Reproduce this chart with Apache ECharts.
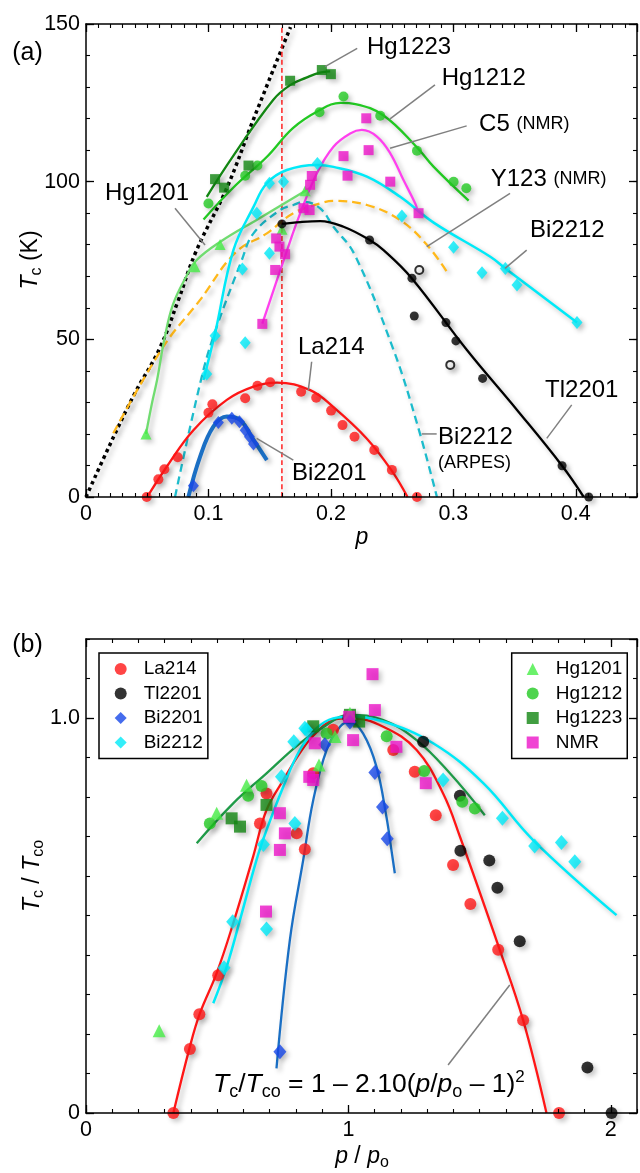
<!DOCTYPE html>
<html><head><meta charset="utf-8">
<script src="https://cdn.jsdelivr.net/npm/echarts@6/dist/echarts.min.js"></script>
<style>html,body{margin:0;padding:0;background:#fff}#c{width:640px;height:1173px}</style>
</head><body><div id="c"></div>
<script>
// ================= DATA =================
// Panel (a): [p, Tc (K)]
const aXTickLabels = [0, 0.1, 0.2, 0.3, 0.4];
const aYTickLabels = [0, 50, 100, 150];
const envelopeDotted = [[0,0],[0.02,17],[0.04,33],[0.06,47],[0.075,62],[0.09,78],[0.115,98],[0.137,120],[0.167,149]];
const optimalDoping = [[0.16,0],[0.16,150]];
const hg1201Curve = [[0.049,20],[0.054,30],[0.058,37],[0.064,50],[0.071,61],[0.082,70],[0.09,75],[0.11,81],[0.14,88],[0.183,98]];
const hg1201Pts = [[0.049,20],[0.089,73],[0.1095,80.1],[0.16,84.9],[0.179,97.1]];
const hg1212Curve = [[0.096,88],[0.12,98],[0.148,108],[0.169,117],[0.19,122.5],[0.208,125],[0.22,124.6],[0.243,121],[0.27,111],[0.284,104.7],[0.3125,94]];
const hg1212Pts = [[0.1,93.1],[0.13,101.9],[0.14,105.1],[0.1907,122],[0.2103,127],[0.2403,120.9],[0.2703,109.8],[0.3002,100],[0.3106,97.9]];
const hg1223Curve = [[0.0986,95.2],[0.12,108],[0.153,126],[0.167,130.7],[0.18,133],[0.191,134.6],[0.1994,135]];
const hg1223Pts = [[0.1054,100.8],[0.1128,98.1],[0.1327,105.1],[0.1667,132],[0.1926,135.4],[0.2,134.1]];
const c5Curve = [[0.144,55],[0.164,78],[0.175,90],[0.1886,102.7],[0.2021,111.1],[0.2158,115.3],[0.2253,116.4],[0.2376,114.3],[0.2485,109],[0.2593,100.5],[0.2689,93.1],[0.2703,91.5]];
const nmrPtsA = [[0.144,54.9],[0.1545,72],[0.1553,82],[0.158,79.4],[0.1626,77],[0.1776,91.6],[0.1844,101.8],[0.183,99],[0.1826,91],[0.2103,108.1],[0.2136,101.9],[0.2289,120.1],[0.2308,110],[0.2485,100],[0.2716,90]];
const y123Curve = [[0.0223,20.2],[0.0632,47.7],[0.0932,62.5],[0.122,77.5],[0.1477,83.6],[0.1694,90],[0.1913,93.1],[0.2021,93.9],[0.2294,92.6],[0.2566,87.8],[0.2784,80],[0.2948,71.4]];
const bi2212Curve = [[0.0959,37.1],[0.1054,51.9],[0.1204,78.3],[0.1368,92],[0.1477,99.5],[0.164,103.7],[0.1886,105.3],[0.2021,104.7],[0.2294,101.6],[0.2566,95.2],[0.2839,87],[0.3302,76.2],[0.3425,72.5],[0.401,55.3]];
const bi2212PtsA = [[0.0986,39],[0.1054,51.1],[0.13,48.9],[0.1277,72.3],[0.1498,77.3],[0.1395,90],[0.1498,99.5],[0.1613,100],[0.189,105.8],[0.258,89.1],[0.3002,79.2],[0.3234,71.1],[0.3425,72.5],[0.352,67.2],[0.401,55.3]];
const arpesCurve = [[0.0727,0],[0.0932,36],[0.104,50.8],[0.1273,75.2],[0.1368,83.6],[0.1586,91],[0.1694,92.6],[0.178,93.6],[0.1913,91.5],[0.2021,85.7],[0.2192,77],[0.2512,46.6],[0.2703,23.4],[0.2866,0]];
const tl2201Curve = [[0.16,86.6],[0.175,87.2],[0.1913,87.5],[0.2103,85.7],[0.2316,81.5],[0.243,78.3],[0.266,69.4],[0.3111,46.6],[0.352,27.6],[0.3888,9.9],[0.4065,0]];
const tl2201PtsA = [[0.16,86.6],[0.2316,81.5],[0.2662,69.4],[0.2681,57.4],[0.294,55.3],[0.3021,49.5],[0.3239,37.6],[0.3888,9.9],[0.4106,0]];
const tl2201Open = [[0.2722,72],[0.2975,41.9]];
const la214Curve = [[0.05,0],[0.0659,9.6],[0.0877,21.2],[0.115,30.8],[0.1368,35],[0.156,36.3],[0.1831,33.9],[0.2021,28.5],[0.2294,18.5],[0.2498,8.3],[0.2626,0]];
const la214PtsA = [[0.0496,0],[0.0591,5.6],[0.064,8.8],[0.0749,12.6],[0.1,26.7],[0.1032,29.4],[0.13,31.3],[0.14,35.3],[0.1504,36.4],[0.1757,33.4],[0.188,31.5],[0.2002,27.4],[0.2095,22.8],[0.2193,19.1],[0.2354,14.9],[0.2498,8.6],[0.2703,0]];
const bi2201Curve = [[0.0836,0],[0.0932,12.8],[0.104,22.3],[0.115,25.5],[0.1259,24.4],[0.1368,18.1],[0.1477,11.7]];
const bi2201PtsA = [[0.0877,3.6],[0.1081,23.6],[0.1191,25],[0.1253,23.9],[0.13,21.2],[0.1335,19.1],[0.1368,16.8]];

// Panel (b): [p/po, Tc/Tco]
const bXTickLabels = [0, 1, 2];
const bYTickLabels = [0, 1];
const bRedCurve = [[0.333,0],[0.396,0.168],[0.434,0.252],[0.498,0.354],[0.561,0.48],[0.637,0.649],[0.688,0.767],[0.752,0.843],[0.815,0.911],[0.866,0.955],[0.942,0.995],[1.006,1.0],[1.133,0.978],[1.26,0.919],[1.361,0.809],[1.425,0.7],[1.577,0.413],[1.666,0.235],[1.755,0]];
const bBlueCurve = [[0.726,0.113],[0.777,0.438],[0.828,0.641],[0.866,0.792],[0.917,0.919],[0.968,0.978],[1.006,0.991],[1.056,0.961],[1.107,0.877],[1.145,0.75],[1.164,0.666],[1.177,0.607]];
const bCyanCurve = [[0.485,0.278],[0.536,0.37],[0.587,0.489],[0.65,0.641],[0.688,0.716],[0.752,0.826],[0.815,0.919],[0.879,0.974],[0.942,0.999],[1.006,1.003],[1.133,0.991],[1.323,0.936],[1.514,0.835],[1.704,0.691],[2.022,0.501]];
const bGreenCurve = [[0.422,0.683],[0.561,0.784],[0.688,0.86],[0.815,0.936],[0.9,0.975],[1.006,1.008],[1.133,0.995],[1.26,0.944],[1.387,0.86],[1.52,0.754]];
const bLa214 = [[0.333,0],[0.396,0.162],[0.432,0.25],[0.504,0.349],[0.663,0.733],[0.688,0.809],[0.803,0.708],[0.834,0.668],[0.866,0.86],[0.942,0.97],[1.171,0.919],[1.253,0.864],[1.333,0.754],[1.399,0.628],[1.465,0.529],[1.571,0.413],[1.666,0.235],[1.803,0]];
const bTl2201 = [[1.0,1.0],[1.285,0.94],[1.425,0.803],[1.427,0.664],[1.537,0.639],[1.568,0.57],[1.653,0.435],[1.911,0.115],[2.003,0]];
const bBi2201 = [[0.739,0.155],[0.91,0.932],[1.006,0.99],[1.101,0.862],[1.13,0.775],[1.148,0.694]];
const bBi2212 = [[0.526,0.368],[0.559,0.484],[0.676,0.68],[0.688,0.466],[0.745,0.851],[0.792,0.94],[0.796,0.733],[0.834,0.974],[0.841,0.97],[1.361,0.843],[1.587,0.746],[1.71,0.676],[1.812,0.685],[1.863,0.636]];
const bHg1201 = [[0.279,0.208],[0.498,0.759],[0.612,0.83],[0.888,0.881],[0.949,0.953],[1.006,1.012]];
const bHg1212 = [[0.472,0.733],[0.618,0.803],[0.669,0.828],[0.917,0.961],[1.146,0.954],[1.289,0.866],[1.434,0.788],[1.482,0.771]];
const bHg1223 = [[0.555,0.746],[0.587,0.725],[0.688,0.78],[0.866,0.979],[1.006,1.008],[1.041,0.991]];
const bNMR = [[0.686,0.51],[0.739,0.759],[0.739,0.666],[0.758,0.708],[0.851,0.851],[0.866,0.843],[0.872,0.936],[1.003,1.003],[1.018,0.944],[1.092,1.111],[1.101,1.02],[1.183,0.927],[1.295,0.835]];

// Annotations (data coordinates)
const aLabels = [
  ['Hg1223', 0.2295, 142.7], ['Hg1212', 0.2905, 132.6], ['C5 {s|(NMR)}', 0.321, 118.3],
  ['Y123 {s|(NMR)}', 0.3305, 100.8], ['Bi2212', 0.3626, 84.4], ['Hg1201', 0.0155, 96.2],
  ['La214', 0.1731, 47.6], ['Bi2201', 0.1682, 7.6], ['Bi2212', 0.2875, 18.9],
  ['{s|(ARPES)}', 0.2875, 10.8], ['Tl2201', 0.3749, 33.9]
];
const aLeaders = [
  [[0.2215,142.3],[0.1952,136.5]], [[0.285,130.7],[0.2483,119.9]], [[0.3109,117.7],[0.2483,110.6]],
  [[0.3463,96.3],[0.2783,79.4]], [[0.3599,78.3],[0.3422,72.5]], [[0.0727,91.6],[0.0972,79.9]],
  [[0.1843,42.9],[0.1816,33.9]], [[0.1693,11.7],[0.1394,18.6]], [[0.2864,20],[0.2742,20]],
  [[0.3967,29.2],[0.3763,18.6]]
];
const bEquationPos = [0.4838, 0.0709];
const bLeader = [[1.38,0.1215],[1.615,0.324]];

// ================= STYLE / BUILD =================
const FONT = '"Liberation Sans", Arial, Helvetica, sans-serif';
const COL = {la:'#ff1616', tl:'#000000', bi2201:'#1747e8', bi2201Line:'#1a6fc4', bi2212:'#00eaf8', arpes:'#1cbccc',
  hg1201:'#46ee46', hg1201Line:'#70dc70', hg1212:'#22c922', hg1223:'#128612', nmr:'#ec14c8', c5Line:'#ff40ee',
  y123:'#ffb81a', vline:'#ff2020', bGreen:'#1f9b48'};
const SH = {shadowColor:'rgba(0,0,0,0.28)', shadowBlur:5, shadowOffsetX:3, shadowOffsetY:3};

function axisSet(dim, grid, min, max, major, minor, labels, fmt, showMax) {
  const isX = dim === 'x';
  const base = {gridIndex:grid, type:'value', min:min, max:max, splitLine:{show:false},
    axisLine:{onZero:false, lineStyle:{color:'#000', width:1.5}}, z:5};
  const pos = isX ? ['bottom','top'] : ['left','right'];
  const lab = {show:true, color:'#000', fontSize:21.5, fontFamily:FONT, margin:6, showMaxLabel:!!showMax, showMinLabel:true,
    formatter: v => labels.some(l => Math.abs(l - v) < 1e-9) ? fmt(v) : ''};
  return [
    Object.assign({}, base, {position:pos[0], interval:major, axisTick:{inside:true, length:8, lineStyle:{color:'#000', width:1.3}}, axisLabel:lab}),
    Object.assign({}, base, {position:pos[1], interval:major, axisTick:{inside:true, length:8, lineStyle:{color:'#000', width:1.3}}, axisLabel:{show:false}}),
    Object.assign({}, base, {position:pos[0], interval:minor, axisLine:{show:false, onZero:false}, axisTick:{inside:true, length:4, lineStyle:{color:'#000', width:1.1}}, axisLabel:{show:false}}),
    Object.assign({}, base, {position:pos[1], interval:minor, axisLine:{show:false, onZero:false}, axisTick:{inside:true, length:4, lineStyle:{color:'#000', width:1.1}}, axisLabel:{show:false}})
  ];
}

const xAxis = [].concat(
  axisSet('x', 0, 0, 0.45, 0.1, 0.01, aXTickLabels, v => v === 0 ? '0' : v.toFixed(1), false),
  axisSet('x', 1, 0, 2.1, 1, 0.1, bXTickLabels, v => String(Math.round(v)), false)
);
const yAxis = [].concat(
  axisSet('y', 0, 0, 150, 50, 10, aYTickLabels, v => String(Math.round(v)), true),
  axisSet('y', 1, 0, 1.2, 1, 0.1, bYTickLabels, v => v === 0 ? '0' : v.toFixed(1), false)
);

function curve(g, data, color, width, type, name) {
  return {type:'line', name:name || '', xAxisIndex:g*4, yAxisIndex:g*4, data:data, smooth:0.4, showSymbol:false,
    symbol:'none', silent:true, clip:true, z:3,
    lineStyle:Object.assign({color:color, width:width, type:type || 'solid', cap:'butt'}, SH)};
}
function pts(g, data, color, symbol, size, name, extra) {
  return {type:'scatter', name:name || '', xAxisIndex:g*4, yAxisIndex:g*4, data:data, symbol:symbol, symbolSize:size,
    silent:true, z:4, itemStyle:Object.assign({color:color}, SH, extra || {})};
}

const series = [
  // panel (a)
  curve(0, envelopeDotted, '#000', 3.5, [3.5,3.5]),
  curve(0, optimalDoping, COL.vline, 1.5, [5,3]),
  curve(0, y123Curve, COL.y123, 2.3, [9,5]),
  curve(0, arpesCurve, COL.arpes, 2.3, [8,5]),
  curve(0, hg1201Curve, COL.hg1201Line, 2.3),
  curve(0, hg1212Curve, COL.hg1212, 2.3),
  curve(0, hg1223Curve, COL.hg1223, 2.3),
  curve(0, c5Curve, COL.c5Line, 2.3),
  curve(0, bi2212Curve, COL.bi2212, 2.5),
  curve(0, tl2201Curve, COL.tl, 2.3),
  curve(0, la214Curve, COL.la, 2.3),
  curve(0, bi2201Curve, COL.bi2201Line, 4),
  pts(0, hg1201Pts, COL.hg1201, 'triangle', 11),
  pts(0, hg1212Pts, COL.hg1212, 'circle', 10),
  pts(0, hg1223Pts, COL.hg1223, 'rect', 10),
  pts(0, nmrPtsA, COL.nmr, 'rect', 10),
  pts(0, bi2212PtsA, COL.bi2212, 'diamond', [11,13]),
  pts(0, tl2201PtsA, '#000', 'circle', 9),
  pts(0, tl2201Open, '#000', 'emptyCircle', 8, '', {borderWidth:1.2}),
  pts(0, la214PtsA, COL.la, 'circle', 10),
  pts(0, bi2201PtsA, COL.bi2201, 'diamond', [11,13]),
  // panel (b)
  curve(1, bRedCurve, COL.la, 2.3),
  curve(1, bBlueCurve, COL.bi2201Line, 2.3),
  curve(1, bGreenCurve, COL.bGreen, 2.3),
  curve(1, bCyanCurve, COL.bi2212, 2.5),
  pts(1, bTl2201, '#000', 'circle', 12, 'Tl2201'),
  pts(1, bLa214, COL.la, 'circle', 12, 'La214'),
  pts(1, bHg1212, COL.hg1212, 'circle', 12, 'Hg1212'),
  pts(1, bHg1223, COL.hg1223, 'rect', 12, 'Hg1223'),
  pts(1, bHg1201, COL.hg1201, 'triangle', 13, 'Hg1201'),
  pts(1, bBi2212, COL.bi2212, 'diamond', [13,15], 'Bi2212'),
  pts(1, bBi2201, COL.bi2201, 'diamond', [13,15], 'Bi2201'),
  pts(1, bNMR, COL.nmr, 'rect', 12, 'NMR')
];

const legendBase = {orient:'vertical', itemWidth:12, itemHeight:12, itemGap:5.5, borderColor:'#000', borderWidth:1.5,
  backgroundColor:'#fff', selectedMode:false, z:10, formatter:'{t|{name}}',
  textStyle:{fontSize:19, fontFamily:FONT, color:'#000', lineHeight:14,
    rich:{t:{fontSize:19, fontFamily:FONT, color:'#000', lineHeight:14, padding:[0,0,0,12]}}}};
const legend = [
  Object.assign({}, legendBase, {left:99, top:653, padding:[6.5,5,6.5,15.7], data:['La214','Tl2201','Bi2201','Bi2212']}),
  Object.assign({}, legendBase, {left:511.7, top:653, padding:[6.5,5,6.5,15], data:['Hg1201','Hg1212','Hg1223','NMR']})
];

const chart = echarts.init(document.getElementById('c'), null, {renderer:'canvas'});
chart.setOption({
  animation:false, backgroundColor:'#fff',
  grid:[{left:86, top:24, width:551, height:473}, {left:86, top:639, width:551, height:474}],
  xAxis:xAxis, yAxis:yAxis, series:series, legend:legend
});

// ---------- annotations ----------
function P(g, v) { return chart.convertToPixel({xAxisIndex:g*4, yAxisIndex:g*4}, v); }
const RICH = {
  s:{fontSize:18, fontFamily:FONT, color:'#000'},
  i:{fontSize:23, fontFamily:FONT, fontStyle:'italic', color:'#000', lineHeight:28},
  n:{fontSize:23, fontFamily:FONT, color:'#000', lineHeight:28},
  sub:{fontSize:16, fontFamily:FONT, color:'#000', verticalAlign:'bottom', lineHeight:16},
  sup:{fontSize:15, fontFamily:FONT, color:'#000', verticalAlign:'top', lineHeight:15}
};
const RICH_EQ = {
  i:{fontSize:26.5, fontFamily:FONT, fontStyle:'italic', color:'#000', lineHeight:32},
  n:{fontSize:26.5, fontFamily:FONT, color:'#000', lineHeight:32},
  sub:{fontSize:18, fontFamily:FONT, color:'#000', verticalAlign:'bottom', lineHeight:18},
  sup:{fontSize:17, fontFamily:FONT, color:'#000', verticalAlign:'top', lineHeight:17}
};
function txt(x, y, text, size, rich) {
  return {type:'text', x:x, y:y, silent:true, z:20,
    style:{text:text, fontSize:size || 24, fontFamily:FONT, fill:'#000', rich:rich || RICH,
      align:'left', textAlign:'left', verticalAlign:'middle', textVerticalAlign:'middle'}};
}
const gfx = [];
aLeaders.forEach(l => {
  const a = P(0, l[0]), b = P(0, l[1]);
  gfx.push({type:'line', silent:true, z:19, shape:{x1:a[0], y1:a[1], x2:b[0], y2:b[1]}, style:{stroke:'#808080', lineWidth:1.5}});
});
aLabels.forEach(l => { const p = P(0, [l[1], l[2]]); gfx.push(txt(p[0], p[1], l[0], 24)); });
{
  const a = P(1, bLeader[0]), b = P(1, bLeader[1]);
  gfx.push({type:'line', silent:true, z:19, shape:{x1:a[0], y1:a[1], x2:b[0], y2:b[1]}, style:{stroke:'#808080', lineWidth:1.5}});
  const e = P(1, bEquationPos);
  gfx.push(txt(e[0], e[1], '{i|T}{sub|c}{n|/}{i|T}{sub|co}{n| = 1 – 2.10(}{i|p}{n|/}{i|p}{sub|o}{n| – 1)}{sup|2}', 26.5, RICH_EQ));
}
function centered(x, y, text, rot, size) {
  return {type:'text', x:x, y:y, rotation:rot || 0, silent:true, z:20,
    style:{text:text, rich:RICH, fontSize:size || 23, fontFamily:FONT, fill:'#000', align:'center', textAlign:'center', verticalAlign:'middle', textVerticalAlign:'middle'}};
}
gfx.push(centered(27.5, 53, '(a)', 0, 25));
gfx.push(centered(27.5, 645, '(b)', 0, 25));
gfx.push(centered(31, 260, '{i|T}{sub|c}{n| (K)}', Math.PI/2));
gfx.push(centered(362, 538, '{i|p}'));
gfx.push(centered(33, 876, '{i|T}{sub|c}{n| / }{i|T}{sub|co}', Math.PI/2));
gfx.push(centered(362, 1157, '{i|p}{n| / }{i|p}{sub|o}'));
chart.setOption({graphic:gfx});
</script></body></html>
